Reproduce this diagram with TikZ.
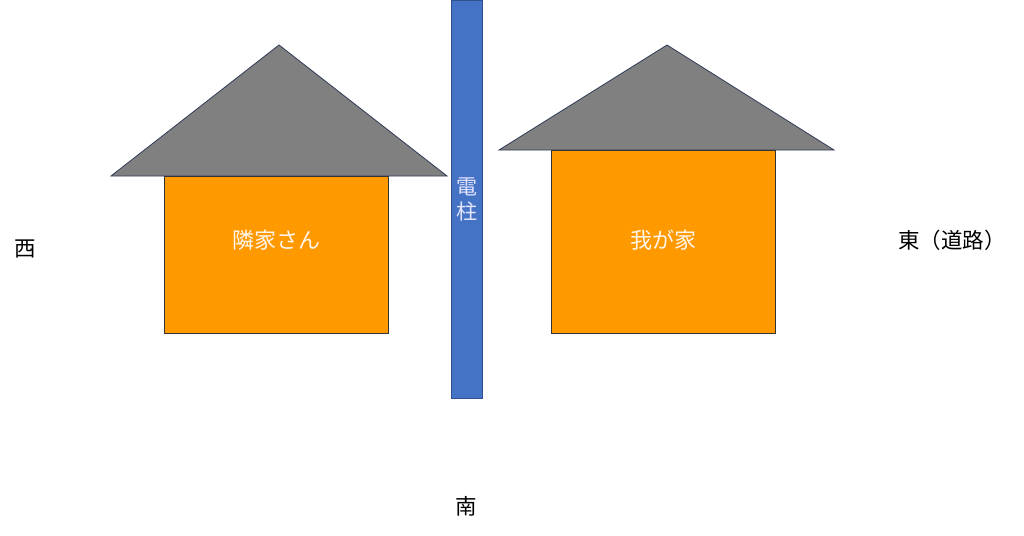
\documentclass[tikz,border=0pt]{standalone}
\usepackage{fontspec}
\setmainfont{Noto Sans CJK JP}
\definecolor{roofgray}{RGB}{128,128,128}
\definecolor{roofline}{RGB}{47,59,86}
\definecolor{bodyorange}{RGB}{255,153,0}
\definecolor{poleblue}{RGB}{68,114,196}
\definecolor{poleline}{RGB}{47,82,143}
\begin{document}
\begin{tikzpicture}[x=1pt,y=-1pt,
  roof/.style={fill=roofgray,draw=roofline,line width=0.8pt,line join=miter},
  body/.style={fill=bodyorange,draw=black!80,line width=1pt},
  pole/.style={fill=poleblue,draw=poleline,line width=1pt},
  inlabel/.style={text=white!92!orange,font=\fontsize{22}{25}\selectfont},
  outlabel/.style={text=black,font=\fontsize{21.5}{25}\selectfont}]
\useasboundingbox (0,0) rectangle (1024,535);
% left house
\draw[roof] (111,176) -- (279,45) -- (447,176) -- cycle;
\draw[body] (164,176) rectangle (388,333);
\node[inlabel] (nb) at (276,240) {隣家さん};
% pole
\draw[pole] (451,0.5) rectangle (482,398);
\node[text=white!90!blue,font=\fontsize{21}{25}\selectfont,align=center] (pl) at (466.5,199) {電\\柱};
% right house
\draw[roof] (499,150) -- (667,45) -- (834,150) -- cycle;
\draw[body] (551,150) rectangle (775,333);
\node[inlabel] (my) at (663,240) {我が家};
% directions
\node[outlabel] (w) at (25,249) {西};
\node[outlabel] (e) at (952,240) {東（道路）};
\node[outlabel] (s) at (466,506) {南};
\end{tikzpicture}
\end{document}
